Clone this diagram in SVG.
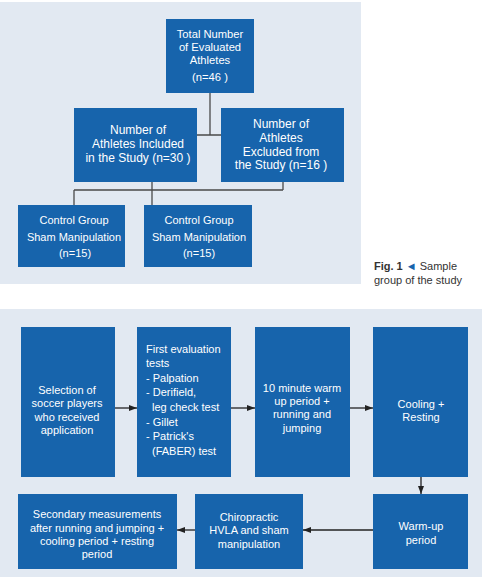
<svg xmlns="http://www.w3.org/2000/svg" width="482" height="577" viewBox="0 0 482 577">
<style>
.bg{fill:#e2e9f2}
.box{fill:#1764ac}
.t{font-family:"Liberation Sans",Arial,sans-serif;fill:#ffffff;text-anchor:middle}
.s10{font-size:11px}
.s11{font-size:11px}
.s12{font-size:12px}
.s105{font-size:11.2px}
.l{text-anchor:start}
.ln{stroke:#4a4a4a;stroke-width:1.3;fill:none}
.ar{stroke:#222;stroke-width:1.3;fill:none;marker-end:url(#ah)}
.cap{font-family:"Liberation Sans",Arial,sans-serif;font-size:11px;fill:#333}
</style>
<defs>
<marker id="ah" markerWidth="8" markerHeight="6" refX="8" refY="3" orient="auto" markerUnits="userSpaceOnUse">
<path d="M0,0 L8,3 L0,6 z" fill="#222"/>
</marker>
</defs>
<rect class="bg" x="0" y="2" width="361" height="282"/>
<rect class="bg" x="0" y="309" width="482" height="268"/>
<g id="connectors">
<path class="ln" d="M210,93 V135 M197,135 H221 M152,182 V205 M74,190 H283 M74,190 V205 M283,182 V190"/>
<path class="ar" d="M115,408 H137"/>
<path class="ar" d="M231,408 H255"/>
<path class="ar" d="M350,408 H373"/>
<path class="ar" d="M421,477 V494"/>
<path class="ar" d="M373,530 H303"/>
<path class="ar" d="M195,530 H177"/>
</g>
<g id="total">
<rect class="box" x="166" y="19" width="88" height="74"/>
<text class="t s105"><tspan x="210" y="38">Total Number</tspan><tspan x="210" y="51">of Evaluated</tspan><tspan x="210" y="64">Athletes</tspan><tspan x="210" y="81">(n=46 )</tspan></text>
</g>
<g id="included">
<rect class="box" x="74" y="108" width="123" height="74"/>
<text class="t s12"><tspan x="138" y="134">Number of</tspan><tspan x="138" y="148">Athletes Included</tspan><tspan x="138" y="162">in the Study (n=30 )</tspan></text>
</g>
<g id="excluded">
<rect class="box" x="221" y="108" width="123" height="74"/>
<text class="t s12"><tspan x="281" y="128">Number of</tspan><tspan x="281" y="142">Athletes</tspan><tspan x="281" y="156">Excluded from</tspan><tspan x="281" y="169">the Study (n=16 )</tspan></text>
</g>
<g id="control1">
<rect class="box" x="18" y="205" width="107" height="62"/>
<text class="t s10"><tspan x="74" y="224">Control Group</tspan><tspan x="74" y="241">Sham Manipulation</tspan><tspan x="75" y="257">(n=15)</tspan></text>
</g>
<g id="control2">
<rect class="box" x="144" y="205" width="108" height="62"/>
<text class="t s10"><tspan x="199" y="224">Control Group</tspan><tspan x="199" y="241">Sham Manipulation</tspan><tspan x="199" y="257">(n=15)</tspan></text>
</g>
<g id="caption">
<text class="cap" x="374" y="270"><tspan font-weight="bold">Fig. 1</tspan> <tspan fill="#1764ac">◄</tspan> Sample</text>
<text class="cap" x="374" y="284">group of the study</text>
</g>
<g id="selection">
<rect class="box" x="21" y="327" width="94" height="150"/>
<text class="t s11"><tspan x="67" y="394">Selection of</tspan><tspan x="67" y="407">soccer players</tspan><tspan x="67" y="421">who received</tspan><tspan x="67" y="434">application</tspan></text>
</g>
<g id="first-eval">
<rect class="box" x="137" y="327" width="94" height="150"/>
<text class="t s11 l"><tspan x="146" y="353">First evaluation</tspan><tspan x="146" y="367">tests</tspan><tspan x="146" y="382">- Palpation</tspan><tspan x="146" y="396">- Derifield,</tspan><tspan x="152" y="411">leg check test</tspan><tspan x="146" y="426">- Gillet</tspan><tspan x="146" y="440">- Patrick's</tspan><tspan x="152" y="455">(FABER) test</tspan></text>
</g>
<g id="warmup10">
<rect class="box" x="255" y="327" width="95" height="150"/>
<text class="t s11"><tspan x="302" y="392">10 minute warm</tspan><tspan x="302" y="405">up period +</tspan><tspan x="302" y="418">running and</tspan><tspan x="302" y="432">jumping</tspan></text>
</g>
<g id="cooling">
<rect class="box" x="373" y="327" width="95" height="150"/>
<text class="t s11"><tspan x="421" y="408">Cooling +</tspan><tspan x="421" y="421">Resting</tspan></text>
</g>
<g id="warmup">
<rect class="box" x="373" y="494" width="95" height="75"/>
<text class="t s11"><tspan x="421" y="530">Warm-up</tspan><tspan x="421" y="544">period</tspan></text>
</g>
<g id="chiropractic">
<rect class="box" x="195" y="494" width="108" height="75"/>
<text class="t s11"><tspan x="249" y="521">Chiropractic</tspan><tspan x="249" y="534">HVLA and sham</tspan><tspan x="249" y="548">manipulation</tspan></text>
</g>
<g id="secondary">
<rect class="box" x="18" y="494" width="159" height="75"/>
<text class="t s11"><tspan x="97" y="518">Secondary measurements</tspan><tspan x="97" y="532">after running and jumping +</tspan><tspan x="97" y="545">cooling period + resting</tspan><tspan x="97" y="558">period</tspan></text>
</g>
</svg>
